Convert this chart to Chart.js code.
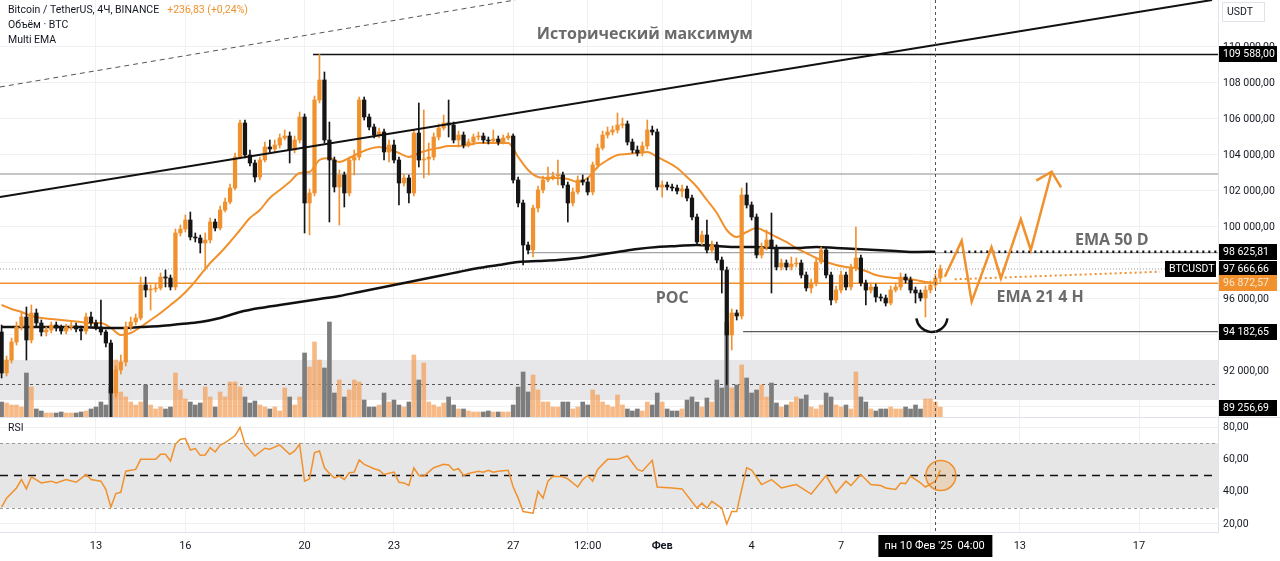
<!DOCTYPE html>
<html>
<head>
<meta charset="utf-8">
<script src="https://cdn.jsdelivr.net/npm/chart.js@4.4.1/dist/chart.umd.min.js"></script>
<style>
  html, body { margin: 0; padding: 0; background: #fff; }
  canvas { display: block; }
</style>
</head>
<body>
<canvas id="chart" width="1280" height="561"></canvas>
<script>
// === DATA (BTCUSDT 4H, candle index 0 = 9 Jan 20:00) ===
const opens = [
  94167,91889,92611,93611,94444,95000,93722,95222,94667,94167,
  94278,94555,94389,94222,94444,94500,94333,94222,95000,94667,
  94444,94167,93555,90778,92055,92500,94444,94722,94944,96778,
  96500,96555,96611,97222,97167,96667,99667,99889,100389,99444,
  99389,99111,99278,100278,99944,100944,101389,102167,103889,105778,
  104000,103555,102778,103722,104444,104333,104555,104944,105055,104278,
  104833,106111,101333,101889,107055,108167,104833,103722,102222,102889,
  101889,103722,103889,107055,106111,105555,105111,105278,104167,104555,
  103722,102444,102722,101889,105222,103722,103778,103889,105000,105500,
  105778,105667,104833,105111,104555,104722,105000,105055,104833,104778,
  104889,104722,104944,105055,102611,101333,99000,98722,101055,102055,
  102611,102778,102833,102889,102333,101333,101944,102611,102500,101944,
  103444,104389,105111,105278,105389,105667,105722,104722,104278,104111,
  104500,105389,105278,102222,102333,102222,102167,102000,102111,101611,
  100555,99167,99555,98722,99000,98167,97611,94000,95222,95055,
  101778,101222,100555,98444,98889,99278,98833,97778,98000,97778,
  97944,98000,97333,96611,96889,98055,98722,97333,95944,96500,
  97333,96667,97722,98278,96889,96500,96667,96111,96055,95778,
  96500,96667,97222,97055,96500,96333,96055,96500,96778,97167
];
const highs = [
  94555,92833,93833,94722,95222,95555,95667,95444,94833,94444,
  94722,94722,94555,94611,94722,94667,94500,95222,95278,94833,
  95944,94278,93722,92278,92889,94722,95000,95167,97222,97222,
  96778,96833,97444,97611,97333,99889,100111,100667,100833,99667,
  99555,99667,100500,100444,101167,101611,102389,104111,105944,105944,
  104278,103722,103889,104722,104833,104833,105167,105389,105278,105055,
  106389,106278,102111,107278,109588,108611,105833,103889,103167,103055,
  103889,104278,107222,107222,106278,105722,105500,105444,104833,104833,
  103889,102944,102889,105389,106889,106500,104667,105222,105722,106222,
  107055,105833,105333,105278,104889,105167,105278,105222,105000,105389,
  105055,105111,105222,105167,102778,101500,99167,101222,102278,102833,
  103333,103055,103722,103055,102500,102167,102833,102889,102722,103611,
  104611,105333,105555,105611,106333,106055,105889,104889,104500,104722,
  105944,105611,105444,102555,102500,102389,102333,102333,102278,101778,
  100722,99778,100389,99222,99167,98333,97778,95444,95389,102167,
  102444,101389,100722,99111,99833,100778,99000,98222,98167,98333,
  98278,98167,97500,97111,98278,98889,98833,97500,96722,97555,
  97500,97944,100000,98444,97055,96889,96833,96278,96222,96722,
  96889,97444,97389,97222,96667,96500,96722,97000,97389,97889
];
const lows = [
  91611,91722,92444,93444,94278,92611,93555,94500,93944,93944,
  94111,94222,94055,94055,94278,94167,93722,94055,94500,94278,
  94000,93333,89256.69,90555,91833,92278,94278,94555,94833,96111,
  95389,96389,96500,96667,96500,96500,99500,99722,99278,99167,
  98555,97611,99111,99778,99833,100833,101278,102055,103778,103833,
  103389,102500,102611,103611,104167,104167,104389,104833,103555,104111,
  104667,99667,99555,101722,106889,104667,100278,101944,100111,101111,
  101722,102889,103722,105944,105389,104944,104944,103722,103611,103555,
  101222,102278,101333,101722,103333,102722,102889,103722,104833,105389,
  105000,104667,104444,104389,104444,104555,104833,104667,104611,104667,
  104555,104611,104833,102444,101111,97889,98500,98333,100833,101889,
  102500,102611,102333,102167,100278,101167,101833,102333,101778,101778,
  103278,104278,104944,105111,105222,105500,104555,104111,103944,103944,
  104333,105111,102055,101667,102055,102000,101833,101667,101444,100389,
  99000,99000,98555,98555,98000,96333,91231,93167,94833,94889,
  101055,100389,98278,98278,98722,96333,97611,97611,97611,97611,
  97778,97167,96444,96333,96722,97944,97167,95667,95778,96333,
  96500,96500,97555,96722,95667,96333,95833,95889,95611,95667,
  96389,96500,96889,96333,95778,95889,95000,96333,96611,96944
];
const closes = [
  91889,92611,93611,94444,95000,93722,95222,94667,94167,94278,
  94555,94389,94222,94444,94500,94333,94222,95000,94667,94444,
  94167,93555,90778,92055,92500,94444,94722,94944,96778,96500,
  96555,96611,97222,97167,96667,99667,99889,100389,99444,99389,
  99111,99278,100278,99944,100944,101389,102167,103889,105778,104000,
  103555,102778,103722,104444,104333,104555,104944,105055,104278,104833,
  106111,101333,101889,107055,108167,104833,103722,102222,102889,101889,
  103722,103889,107055,106111,105555,105111,105278,104167,104555,103722,
  102444,102722,101889,105222,103722,103778,103889,105000,105500,105778,
  105667,104833,105111,104555,104722,105000,105055,104833,104778,104889,
  104722,104944,105055,102611,101333,99000,98722,101055,102055,102611,
  102778,102833,102889,102333,101333,101944,102611,102500,101944,103444,
  104389,105111,105278,105389,105667,105722,104722,104278,104111,104500,
  105389,105278,102222,102333,102222,102167,102000,102111,101611,100555,
  99167,99555,98722,99000,98167,97611,94000,95222,95055,101778,
  101222,100555,98444,98889,99278,98833,97778,98000,97778,97944,
  98000,97333,96611,96889,98055,98722,97333,95944,96500,97333,
  96667,97722,98278,96889,96500,96667,96111,96055,95778,96500,
  96667,97222,97055,96500,96333,96055,96500,96778,97167,97666.66
];
const volumes = [
  1500,1400,1200,1200,1000,4400,3000,800,600,400,
  400,400,500,400,400,400,500,600,800,1000,
  1500,1200,3000,5700,2500,2000,1500,1200,1500,3200,
  1200,800,1000,800,1000,4400,2700,1800,1500,1200,
  1400,3000,2000,1000,2500,2000,3500,3500,3000,2000,
  1400,1600,1200,1000,800,1000,600,2900,2000,1200,
  2000,6400,5000,7500,5700,4900,9500,2400,3700,2000,
  2700,3700,3500,1700,1000,1000,1200,2400,1500,1700,
  1200,1000,1500,6200,3700,5400,1500,1200,1000,1400,
  2000,1200,800,800,600,500,500,500,600,500,
  500,500,500,1200,3000,4500,2500,4200,2700,1500,
  1500,1000,1000,1500,1500,800,1000,1500,1200,2700,
  2200,1500,1200,1000,2200,1200,800,600,800,600,
  1500,1200,2400,1500,800,600,600,800,1700,2000,
  1500,1000,1900,1500,3700,2900,9500,2900,3200,5200,
  3900,2400,2700,3200,2000,3400,1400,1000,1200,1500,
  2000,1800,2200,1000,800,1200,2400,2000,1200,1000,
  1200,800,4500,2000,1500,800,600,800,800,1000,
  800,800,1000,800,1200,800,1800,1800,1500,1000
];

// EMA 21 (4H), one reading every EMA21_STEP candles
const EMA21_STEP = 2;
const ema21 = [
  95667,95444,95278,95055,94944,94889,94833,94778,94722,94667,
  94667,94389,94000,94111,94444,94833,95222,95667,96111,96667,
  97333,98000,98555,99167,99833,100500,100944,101611,102055,102500,
  103000,103055,103722,103833,103611,103833,104111,104333,104444,104333,
  104111,103889,104111,104278,104389,104500,104500,104555,104667,104667,
  104667,104667,103889,103167,102778,102722,102722,102667,102500,102722,
  103333,103722,104000,104055,104111,104167,103889,103611,103278,102778,
  102222,101500,100778,99833,99444,99722,99944,99722,99444,99167,
  98833,98555,98278,98055,97889,97778,97722,97555,97333,97222,
  97167,97111,97055,96944,96889
];
// EMA 50 (1D), one reading every EMA50_STEP candles
const EMA50_STEP = 4;
const ema50 = [
  94444,94444,94444,94444,94444,94389,94389,94444,94500,94611,
  94722,94944,95278,95500,95667,95833,96000,96167,96389,96611,
  96833,97055,97278,97500,97722,97889,98055,98111,98167,98278,
  98444,98611,98778,98889,98944,99000,98944,98889,98889,98833,
  98833,98889,98833,98778,98722,98667,98611,98625.81
];

// RSI readings (candle index, value)
const rsiIdx = [
  0,1,3,4,5,6,8,10,11,13,15,17,18,20,21,22,23,24,25,27,
  28,30,31,32,33,34,35,36,37,38,39,40,41,42,43,44,45,47,48,49,
  51,53,54,56,58,59,60,61,62,63,64,65,66,67,68,69,70,71,72,73,
  75,76,77,79,80,81,82,83,84,85,87,89,90,91,92,93,94,96,97,98,
  99,100,102,103,104,105,107,108,109,110,111,113,114,116,117,118,119,120,122,124,
  126,127,128,129,131,132,135,137,140,141,142,143,145,146,147,148,150,151,153,155,
  157,159,160,163,166,168,170,171,173,175,177,178,180,181,182,183,185,186,188,189
];
const rsiVals = [
  30.4,36,42.3,47.5,41.7,49.2,45.4,46.5,45.4,47.5,45.8,50.6,47.5,46.5,41.3,30.4,38.8,39.6,52.7,53.8,
  60,60,60,63.1,63.1,59,69.4,72.5,72.9,65.8,66.7,62.5,62.7,67.3,64.6,68.8,70.4,74.6,79.8,69.4,
  62.1,66.9,66.3,69,63.1,65.2,69.4,46.5,47.9,64.2,65.2,54.8,51.3,48.5,49.6,47.5,51.7,52.1,59.6,56.9,
  54.2,53.3,50.6,52.1,45.8,45.4,43.8,54.8,50,49.6,54.8,56.9,56.5,53.3,54.2,50,51.3,52.7,52.1,53.3,
  52.1,52.7,53.3,42.9,36,27.7,26.7,40.2,36,46.5,49.6,49.2,47.9,42.9,47.5,50,46.5,53.8,60,60,
  62.1,57.9,53.8,52.7,59.4,42.9,42.3,41.7,29.8,32.9,29.8,34,29.8,20,27.7,27.7,54.8,53.3,44.4,47.5,
  42.3,43.8,44.4,38.5,50,39.2,46.5,43.8,50.6,44.4,43.8,42.3,41.3,45.4,45,49.6,45.4,42.9,46.5,53.3
];

// time axis
const dayTicks  = [19, 37, 61, 79, 103, 118, 133, 151, 169, 187, 205, 229];
const dayLabels = ['13', '16', '20', '23', '27', '12:00', 'Фев', '4', '7', '', '13', '17'];
const priceTicks = [90000, 92000, 94000, 96000, 98000, 100000, 102000, 104000, 106000, 108000, 110000];
const hiddenPriceTicks = [90000, 94000, 98000];
const rsiTicks = [20, 40, 60, 80];

// drawings (anchor index, price)
const levelPrices = [109588, 102944, 98570, 97666.66, 96872.57, 94182.65];
const levelStart  = [62.7, -0.32, 105.9, -0.32, -0.32, 149.3];
const trendSolidX = [-0.32, 243.7], trendSolidY = [101667, 112611];
const trendDashX  = [-0.32, 103.4], trendDashY  = [107778, 112611];
const zigX = [189.9, 193.3, 195.3, 199.3, 201.2, 205.2, 207.2, 211.4];
const zigY = [97239, 99239, 95850, 98872, 97150, 100428, 98722, 103072];
const arrowX = [208.3, 211.4, 213.3];
const arrowY = [102572, 103072, 102206];
const ema21ExtX = [191.9, 233.2], ema21ExtY = [97094, 97516];
const zoneBand = [90389, 92611], zoneMid = 91278;
const badgePrices = [109588, 98625.81, 97666.66, 96872.57, 94182.65, 89256.69];

// === STYLE ===
const X_MIN = -0.32, X_MAX = 244.9;
const ORANGE = '#f0912d', DARK = '#151515';
const GRID = '#f1f1f3', AXIS_LINE = '#e0e3eb';
const FONT = 'Roboto, "Liberation Sans", sans-serif';

const fmt = v => {
  const [a, b] = v.toFixed(2).split('.');
  return a.replace(/\B(?=(\d{3})+(?!\d))/g, ' ') + ',' + b;
};

const isUp = closes.map((c, i) => c >= opens[i]);
const candleColors = isUp.map(u => u ? ORANGE : DARK);
const volColors = isUp.map(u => u ? 'rgba(244,160,88,0.72)' : '#7d7d7d');

function line(points, color, width, dash, order, extra) {
  return Object.assign({
    type: 'line', data: points, yAxisID: 'y', borderColor: color, borderWidth: width,
    borderDash: dash || [], pointRadius: 0, fill: false, order, tension: 0
  }, extra || {});
}
const pts = (xs, ys) => xs.map((x, i) => ({ x, y: ys[i] }));

const datasets = [
  { type: 'bar', yAxisID: 'vol', data: volumes.map((v, i) => ({ x: i, y: v })), backgroundColor: volColors,
    barThickness: 4, grouped: false, borderWidth: 0, order: 10 },
  line(pts([levelStart[0], X_MAX], [levelPrices[0], levelPrices[0]]), '#111', 1.5, [], 8),
  line(pts([levelStart[1], X_MAX], [levelPrices[1], levelPrices[1]]), '#8c8c8c', 1, [], 8),
  line(pts([levelStart[2], X_MAX], [levelPrices[2], levelPrices[2]]), '#8c8c8c', 1, [], 8),
  line(pts([levelStart[3], X_MAX], [levelPrices[3], levelPrices[3]]), '#9a9a9a', 1, [1, 2], 8),
  line(pts([levelStart[4], X_MAX], [levelPrices[4], levelPrices[4]]), ORANGE, 1.5, [], 8),
  line(pts([levelStart[5], X_MAX], [levelPrices[5], levelPrices[5]]), '#333', 1, [], 8),
  line(ema50.map((v, k) => ({ x: k * EMA50_STEP, y: v })), '#111', 2.5, [], 6, { cubicInterpolationMode: 'monotone' }),
  line(ema21.map((v, k) => ({ x: k * EMA21_STEP, y: v })), ORANGE, 2, [], 6, { cubicInterpolationMode: 'monotone' }),
  { type: 'bar', yAxisID: 'y', data: lows.map((l, i) => ({ x: i, y: [l, highs[i]] })), backgroundColor: candleColors,
    barThickness: 1, grouped: false, borderWidth: 0, order: 5, clip: 0 },
  { type: 'bar', yAxisID: 'y', data: opens.map((o, i) => ({ x: i, y: [o, closes[i]] })), backgroundColor: candleColors,
    barThickness: 3.6, grouped: false, borderWidth: 0, minBarLength: 1, order: 4, clip: 0 },
  line(pts([189.8, X_MAX], [badgePrices[1], badgePrices[1]]), '#111', 2.5, [2, 4], 3),
  line(pts(ema21ExtX, ema21ExtY), ORANGE, 2, [2, 3], 3),
  line(pts(trendSolidX, trendSolidY), '#111', 2, [], 2),
  line(pts(trendDashX, trendDashY), '#555', 1, [5, 4], 2),
  line(pts(zigX, zigY), ORANGE, 2.5, [], 1, { borderJoinStyle: 'miter' }),
  line(pts(arrowX, arrowY), ORANGE, 2.5, [], 1, { borderJoinStyle: 'miter' }),
  { type: 'line', yAxisID: 'rsi', data: rsiIdx.map((x, i) => ({ x, y: rsiVals[i] })), borderColor: ORANGE,
    borderWidth: 1.5, pointRadius: 0, fill: false, tension: 0, order: 0 }
];

const overlay = {
  id: 'overlay',
  beforeDatasetsDraw(chart) {
    const { ctx, chartArea: a, scales: { y, rsi } } = chart;
    ctx.save();
    // grey zone in price pane
    const zt = y.getPixelForValue(zoneBand[1]), zb = y.getPixelForValue(zoneBand[0]);
    ctx.fillStyle = '#e7e7e9';
    ctx.fillRect(a.left, zt, a.right - a.left, zb - zt);
    ctx.strokeStyle = '#555'; ctx.lineWidth = 1; ctx.setLineDash([3, 3]);
    const zm = Math.round(y.getPixelForValue(zoneMid)) + 0.5;
    ctx.beginPath(); ctx.moveTo(a.left, zm); ctx.lineTo(a.right, zm); ctx.stroke();
    // RSI band 30..70
    const r70 = rsi.getPixelForValue(70), r30 = rsi.getPixelForValue(30), r50 = rsi.getPixelForValue(50);
    ctx.fillStyle = '#e6e6e6';
    ctx.fillRect(a.left, r70, a.right - a.left, r30 - r70);
    ctx.strokeStyle = '#9a9a9a'; ctx.setLineDash([3, 3]);
    [r70, r30].forEach(p => { ctx.beginPath(); ctx.moveTo(a.left, Math.round(p) + 0.5); ctx.lineTo(a.right, Math.round(p) + 0.5); ctx.stroke(); });
    ctx.strokeStyle = '#111'; ctx.lineWidth = 1.5; ctx.setLineDash([8, 6]);
    ctx.beginPath(); ctx.moveTo(a.left, r50); ctx.lineTo(a.right, r50); ctx.stroke();
    ctx.restore();
  },
  afterDatasetsDraw(chart) {
    const { ctx, chartArea: a, scales: { x, y, rsi } } = chart;
    ctx.save();
    // smile under the last candles
    ctx.strokeStyle = '#111'; ctx.lineWidth = 2.5;
    ctx.beginPath();
    ctx.arc(x.getPixelForValue(187.3), y.getPixelForValue(95033), 15.6, 0.04 * Math.PI, 0.96 * Math.PI);
    ctx.stroke();
    // RSI circle
    ctx.beginPath();
    ctx.arc(x.getPixelForValue(189.1), rsi.getPixelForValue(50), 15, 0, 2 * Math.PI);
    ctx.fillStyle = 'rgba(240,145,45,0.22)'; ctx.fill();
    ctx.strokeStyle = ORANGE; ctx.lineWidth = 1.5; ctx.stroke();
    // texts
    ctx.fillStyle = '#6b6b6b';
    ctx.font = 'bold 16px "Open Sans", sans-serif';
    ctx.textAlign = 'center'; ctx.textBaseline = 'middle';
    ctx.fillText('Исторический максимум', x.getPixelForValue(129.5), y.getPixelForValue(110722));
    ctx.fillText('POC', x.getPixelForValue(135), y.getPixelForValue(96055));
    ctx.fillText('EMA 50 D', x.getPixelForValue(223.5), y.getPixelForValue(99278));
    ctx.fillText('EMA 21 4 H', x.getPixelForValue(209.1), y.getPixelForValue(96111));
    // crosshair
    const cx = Math.round(x.getPixelForValue(188)) + 0.5;
    ctx.strokeStyle = '#555'; ctx.lineWidth = 1; ctx.setLineDash([3, 3]);
    ctx.beginPath(); ctx.moveTo(cx, a.top); ctx.lineTo(cx, a.bottom); ctx.stroke();
    ctx.restore();
  },
  afterDraw(chart) {
    const { ctx, chartArea: a, scales: { x, y } } = chart;
    ctx.save();
    // pane separator
    ctx.strokeStyle = AXIS_LINE; ctx.lineWidth = 1;
    const sep = Math.round(y.bottom) + 0.5;
    ctx.beginPath(); ctx.moveTo(0, sep); ctx.lineTo(chart.width, sep); ctx.stroke();
    // legend texts
    ctx.textBaseline = 'middle'; ctx.textAlign = 'left';
    ctx.font = '10.5px ' + FONT;
    ctx.fillStyle = '#131722';
    const t1 = 'Bitcoin / TetherUS, 4Ч, BINANCE';
    ctx.fillText(t1, 8, 10);
    ctx.fillStyle = ORANGE;
    ctx.fillText('+236,83 (+0,24%)', 8 + ctx.measureText(t1).width + 8, 10);
    ctx.fillStyle = '#131722';
    ctx.fillText('Объём · BTC', 8, 25);
    ctx.fillText('Multi EMA', 8, 40);
    ctx.fillText('RSI', 8, y.bottom + 11);
    // USDT box
    ctx.fillStyle = '#fff'; ctx.strokeStyle = AXIS_LINE;
    ctx.fillRect(1222, 2, 42, 19); ctx.strokeRect(1222.5, 2.5, 42, 19);
    ctx.fillStyle = '#131722'; ctx.fillText('USDT', 1227, 12);
    // price badges
    badgePrices.forEach((p, i) => {
      let py = Math.round(y.getPixelForValue(p));
      py = Math.min(py, y.bottom - 9);
      ctx.fillStyle = i === 3 ? ORANGE : '#000';
      ctx.fillRect(a.right + 1, py - 8, 58, 16);
      ctx.fillStyle = i === 3 ? '#fde8d2' : '#fff';
      ctx.fillText(fmt(p), a.right + 5, py + 0.5);
      if (i === 2) {
        ctx.fillStyle = '#000';
        ctx.fillRect(a.right - 53, py - 8, 51, 16);
        ctx.fillStyle = '#fff';
        ctx.fillText('BTCUSDT', a.right - 49, py + 0.5);
      }
    });
    // crosshair time label
    const cx = x.getPixelForValue(188);
    ctx.fillStyle = '#000';
    ctx.fillRect(cx - 57, a.bottom + 3, 114, 22);
    ctx.fillStyle = '#fff'; ctx.font = '11px ' + FONT;
    ctx.fillText("пн 10 Фев '25", cx - 51, a.bottom + 14.5);
    ctx.fillText('04:00', cx + 22, a.bottom + 14.5);
    ctx.restore();
  }
};

const zeroPad = s => { s.paddingTop = 0; s.paddingBottom = 0; s.paddingLeft = 0; s.paddingRight = 0; };

new Chart(document.getElementById('chart'), {
  type: 'bar',
  data: { datasets },
  options: {
    responsive: false, animation: false, devicePixelRatio: 1, events: [],
    layout: { padding: 0, autoPadding: false },
    plugins: { legend: { display: false }, tooltip: { enabled: false } },
    scales: {
      x: {
        type: 'linear', min: X_MIN, max: X_MAX, offset: false, position: 'bottom',
        grid: { color: GRID, offset: false, drawTicks: false },
        border: { color: AXIS_LINE },
        afterBuildTicks: s => { s.ticks = dayTicks.map(v => ({ value: v })); },
        afterFit: s => { s.height = 29; zeroPad(s); },
        ticks: {
          autoSkip: false, maxRotation: 0, padding: 8, color: '#131722',
          font: c => ({ family: FONT, size: 11, weight: c.tick && c.tick.value === 133 ? 'bold' : 'normal' }),
          callback: v => dayLabels[dayTicks.indexOf(v)] ?? ''
        }
      },
      y: {
        type: 'linear', axis: 'y', position: 'right', stack: 'panes', stackWeight: 417,
        min: 89444, max: 112611,
        grid: { color: GRID, drawTicks: false },
        border: { color: AXIS_LINE },
        afterBuildTicks: s => { s.ticks = priceTicks.map(v => ({ value: v })); },
        afterFit: s => { s.width = 62; zeroPad(s); },
        ticks: { padding: 5, color: '#131722', font: { family: FONT, size: 10.5 },
          callback: v => hiddenPriceTicks.includes(v) ? '' : fmt(v) }
      },
      rsi: {
        type: 'linear', axis: 'y', position: 'right', stack: 'panes', stackWeight: 115,
        min: 15, max: 86.25,
        grid: { color: GRID, drawTicks: false },
        border: { color: AXIS_LINE },
        afterBuildTicks: s => { s.ticks = rsiTicks.map(v => ({ value: v })); },
        afterFit: s => { s.width = 62; zeroPad(s); },
        ticks: { padding: 5, color: '#131722', font: { family: FONT, size: 10.5 }, callback: v => fmt(v) }
      },
      vol: {
        type: 'linear', axis: 'y', position: 'left', display: false, min: -11500, max: 41700,
        afterFit: s => { s.width = 0; zeroPad(s); }
      }
    }
  },
  plugins: [overlay]
});
</script>
</body>
</html>
